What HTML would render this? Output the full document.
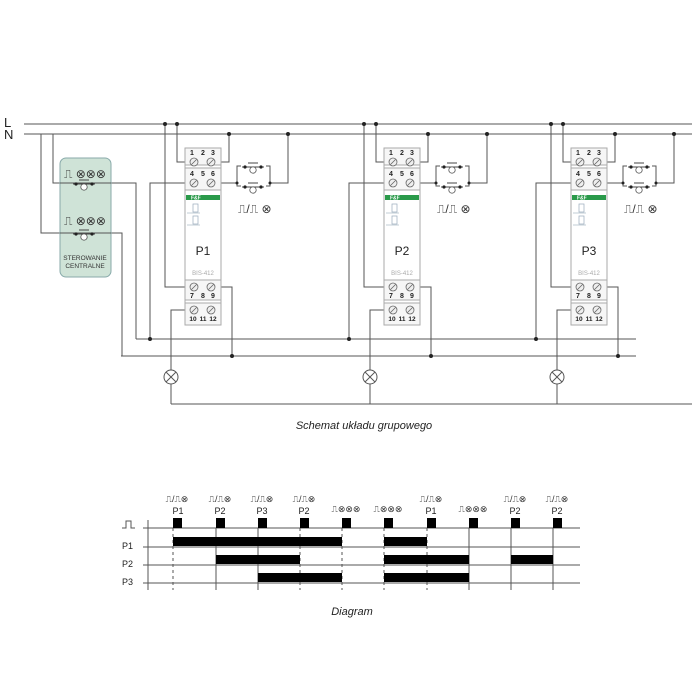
<!DOCTYPE html>
<html><head><meta charset="utf-8"><style>
html,body{margin:0;padding:0;background:#fff;}
svg{display:block;font-family:"Liberation Sans","DejaVu Sans",sans-serif;}
</style></head><body>
<svg width="700" height="700" viewBox="0 0 700 700" xmlns="http://www.w3.org/2000/svg">
<defs>
<g id="btn">
  <line x1="-11" y1="0" x2="11" y2="0" stroke="#444" stroke-width="1"/>
  <circle cx="-8" cy="0" r="1.6" fill="#222"/><circle cx="8" cy="0" r="1.6" fill="#222"/>
  <line x1="-5" y1="-4" x2="5" y2="-4" stroke="#444" stroke-width="1"/>
  <circle cx="0" cy="3" r="3.2" fill="#fff" stroke="#555" stroke-width="0.8"/>
</g>
<g id="scr"><circle r="4" fill="#eee" stroke="#666" stroke-width="0.8"/><line x1="-2.5" y1="2.5" x2="2.5" y2="-2.5" stroke="#666" stroke-width="0.8"/></g>
<g id="lamp"><circle r="7" fill="#fff" stroke="#555" stroke-width="1"/><line x1="-5" y1="-5" x2="5" y2="5" stroke="#555"/><line x1="-5" y1="5" x2="5" y2="-5" stroke="#555"/></g>
<g id="mod">
  <g fill="none" stroke="#555" stroke-width="1">
    <polyline points="-20,124 -20,287 9,287"/>
    <polyline points="-8,124 -8,162 9,162"/>
    <polyline points="26,162 44,162 44,134"/>
    <polyline points="-35,339 -35,183 9,183"/>
    <polyline points="26,183 52,183"/>
    <polyline points="52,183 52,166 56,166"/><polyline points="52,183 52,186 56,186"/>
    <polyline points="85,183 85,166 81,166"/><polyline points="85,183 85,186 81,186"/>
    <polyline points="85,183 103,183 103,134"/>
    <polyline points="26,287 47,287 47,356"/>
    <polyline points="9,310 -14,310 -14,370"/>
    <polyline points="-14,384 -14,404"/>
  </g>
  <circle cx="-20" cy="124" r="2" fill="#222"/><circle cx="-8" cy="124" r="2" fill="#222"/>
  <circle cx="44" cy="134" r="2" fill="#222"/><circle cx="103" cy="134" r="2" fill="#222"/>
  <circle cx="-35" cy="339" r="2" fill="#222"/><circle cx="47" cy="356" r="2" fill="#222"/>
  <circle cx="52" cy="183" r="1.5" fill="#222"/><circle cx="85" cy="183" r="1.5" fill="#222"/>
  <rect x="0" y="148" width="36" height="177" fill="#fff" stroke="#aaa" stroke-width="1"/>
  <rect x="0" y="148" width="36" height="17" fill="#f6f6f6" stroke="#aaa"/>
  <rect x="0" y="168" width="36" height="22" fill="#f6f6f6" stroke="#aaa"/>
  <rect x="0" y="280" width="36" height="20" fill="#f6f6f6" stroke="#aaa"/>
  <rect x="0" y="303" width="36" height="22" fill="#f6f6f6" stroke="#aaa"/>
  <rect x="1" y="195" width="34" height="5" fill="#2a9a4a"/>
  <text x="6" y="199.5" font-size="5" fill="#fff" font-weight="bold">F&amp;F</text>
  <g font-size="7" font-weight="bold" fill="#222" text-anchor="middle">
    <text x="7" y="155">1</text><text x="18" y="155">2</text><text x="28" y="155">3</text>
    <text x="7" y="176">4</text><text x="18" y="176">5</text><text x="28" y="176">6</text>
    <text x="7" y="298">7</text><text x="18" y="298">8</text><text x="28" y="298">9</text>
    <text x="8" y="321" font-size="6.5">10</text><text x="18" y="321" font-size="6.5">11</text><text x="28" y="321" font-size="6.5">12</text>
  </g>
  <use href="#scr" x="9" y="162"/><use href="#scr" x="26" y="162"/>
  <use href="#scr" x="9" y="183"/><use href="#scr" x="26" y="183"/>
  <use href="#scr" x="9" y="287"/><use href="#scr" x="26" y="287"/>
  <use href="#scr" x="9" y="310"/><use href="#scr" x="26" y="310"/>
  <rect x="8" y="204" width="5" height="8" fill="none" stroke="#9ab" stroke-width="0.7"/>
  <rect x="8" y="216" width="5" height="8" fill="none" stroke="#9ab" stroke-width="0.7"/>
  <line x1="2" y1="213" x2="15" y2="213" stroke="#9ab" stroke-width="0.6"/>
  <line x1="2" y1="225" x2="15" y2="225" stroke="#9ab" stroke-width="0.6"/>
  <text x="18" y="255" font-size="12" text-anchor="middle" fill="#222">P1</text>
  <text x="18" y="275" font-size="6" text-anchor="middle" fill="#aaa">BIS-412</text>
  <use href="#btn" x="68" y="167"/><use href="#btn" x="68" y="187"/>
  <text x="53" y="213" font-size="12" fill="#333">⎍/⎍ ⊗</text>
  <use href="#lamp" x="-14" y="377"/>
</g>
</defs>

<text x="4" y="127" font-size="13" fill="#222">L</text>
<text x="4" y="139" font-size="13" fill="#222">N</text>
<g stroke="#555" stroke-width="1" fill="none">
  <line x1="24" y1="124" x2="692" y2="124"/>
  <line x1="24" y1="134" x2="692" y2="134"/>
  <line x1="136" y1="339" x2="636" y2="339"/>
  <line x1="121" y1="356" x2="636" y2="356"/>
  <line x1="171" y1="404" x2="692" y2="404"/>
  <polyline points="41,134 41,233 122,233 122,356"/>
  <polyline points="53,134 53,183 136,183 136,339"/>
</g>
<rect x="60" y="158" width="51" height="119" rx="6" fill="#cfe3d7" stroke="#8aa" stroke-width="1"/>
<g stroke="#555" fill="none"><line x1="60" y1="183" x2="111" y2="183"/><line x1="60" y1="233" x2="111" y2="233"/></g>
<use href="#btn" x="84" y="184"/><use href="#btn" x="84" y="234"/>
<text x="64" y="178" font-size="12" fill="#333">⎍ ⊗⊗⊗</text>
<text x="64" y="225" font-size="12" fill="#333">⎍ ⊗⊗⊗</text>
<text x="85" y="260" font-size="6.5" text-anchor="middle" fill="#333">STEROWANIE</text>
<text x="85" y="268" font-size="6.5" text-anchor="middle" fill="#333">CENTRALNE</text>

<use href="#mod" x="185" y="0"/>
<g transform="translate(384,0)"><use href="#mod"/></g>
<g transform="translate(571,0)"><use href="#mod"/></g>
<rect x="390" y="243" width="24" height="15" fill="#fff"/><text x="402" y="255" font-size="12" text-anchor="middle" fill="#222">P2</text>
<rect x="577" y="243" width="24" height="15" fill="#fff"/><text x="589" y="255" font-size="12" text-anchor="middle" fill="#222">P3</text>

<text x="364" y="429" font-size="11" font-style="italic" text-anchor="middle" fill="#222">Schemat układu grupowego</text>

<g stroke="#555" stroke-width="1" fill="none">
  <line x1="143" y1="528" x2="580" y2="528"/>
  <line x1="143" y1="547" x2="580" y2="547"/>
  <line x1="143" y1="565" x2="580" y2="565"/>
  <line x1="143" y1="583" x2="580" y2="583"/>
  <line x1="148" y1="520" x2="148" y2="590"/>
  <g stroke-dasharray="3,3">
    <line x1="173" y1="528" x2="173" y2="590"/><line x1="300" y1="528" x2="300" y2="590"/>
    <line x1="342" y1="528" x2="342" y2="590"/><line x1="384" y1="528" x2="384" y2="590"/>
    <line x1="427" y1="528" x2="427" y2="590"/>
  </g>
  <line x1="216" y1="528" x2="216" y2="590"/><line x1="258" y1="528" x2="258" y2="590"/>
  <line x1="469" y1="528" x2="469" y2="590"/><line x1="511" y1="528" x2="511" y2="590"/>
  <line x1="553" y1="528" x2="553" y2="590"/>
  <polyline points="122,528 126,528 126,521 131,521 131,528 135,528"/>
</g>
<g fill="#000">
  <rect x="173" y="518" width="9" height="10"/><rect x="216" y="518" width="9" height="10"/>
  <rect x="258" y="518" width="9" height="10"/><rect x="300" y="518" width="9" height="10"/>
  <rect x="342" y="518" width="9" height="10"/><rect x="384" y="518" width="9" height="10"/>
  <rect x="427" y="518" width="9" height="10"/><rect x="469" y="518" width="9" height="10"/>
  <rect x="511" y="518" width="9" height="10"/><rect x="553" y="518" width="9" height="10"/>
  <rect x="173" y="537" width="169" height="9"/><rect x="384" y="537" width="43" height="9"/>
  <rect x="216" y="555" width="84" height="9"/><rect x="384" y="555" width="85" height="9"/><rect x="511" y="555" width="42" height="9"/>
  <rect x="258" y="573" width="84" height="9"/><rect x="384" y="573" width="85" height="9"/>
</g>
<g font-size="9" fill="#222">
  <text x="122" y="549">P1</text><text x="122" y="567">P2</text><text x="122" y="585">P3</text>
</g>
<g font-size="9" fill="#333" text-anchor="middle">
  <text x="177" y="502">⎍/⎍⊗</text><text x="220" y="502">⎍/⎍⊗</text><text x="262" y="502">⎍/⎍⊗</text>
  <text x="304" y="502">⎍/⎍⊗</text><text x="346" y="512">⎍⊗⊗⊗</text><text x="388" y="512">⎍⊗⊗⊗</text>
  <text x="431" y="502">⎍/⎍⊗</text><text x="473" y="512">⎍⊗⊗⊗</text><text x="515" y="502">⎍/⎍⊗</text>
  <text x="557" y="502">⎍/⎍⊗</text>
</g>
<g font-size="9" fill="#222" text-anchor="middle">
  <text x="178" y="514">P1</text><text x="220" y="514">P2</text><text x="262" y="514">P3</text>
  <text x="304" y="514">P2</text><text x="431" y="514">P1</text><text x="515" y="514">P2</text><text x="557" y="514">P2</text>
</g>
<text x="352" y="615" font-size="11" font-style="italic" text-anchor="middle" fill="#222">Diagram</text>
</svg>
</body></html>
